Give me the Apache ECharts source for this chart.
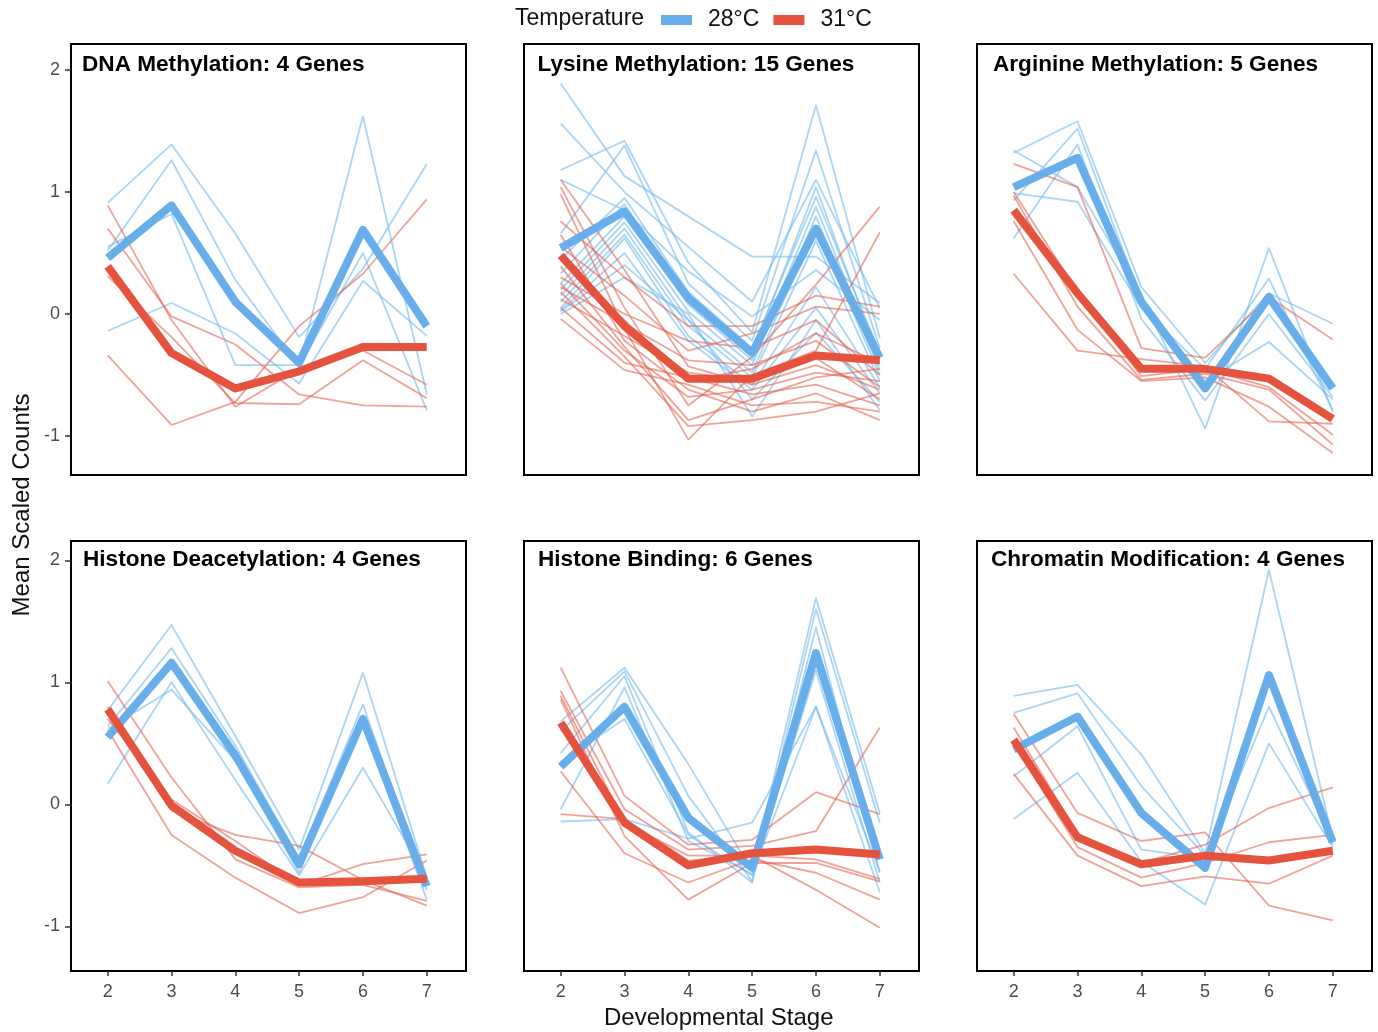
<!DOCTYPE html>
<html><head><meta charset="utf-8">
<script src="https://cdn.jsdelivr.net/npm/echarts@6/dist/echarts.min.js"></script>
<style>html,body{margin:0;padding:0;background:#fff}#c{width:1378px;height:1032px}</style>
</head><body><div id="c"></div><script>
// ---------- DATA ----------
const stages = [2, 3, 4, 5, 6, 7];
const yTicks = [-1, 0, 1, 2];
const temps = ['28°C', '31°C'];
const panelTitles = [
  'DNA Methylation: 4 Genes', 'Lysine Methylation: 15 Genes', 'Arginine Methylation: 5 Genes',
  'Histone Deacetylation: 4 Genes', 'Histone Binding: 6 Genes', 'Chromatin Modification: 4 Genes'
];

// DNA Methylation
const dna28 = [
  [0.91, 1.39, 0.66, -0.19, 0.37, 1.23],
  [0.52, 1.26, 0.28, -0.43, 0.50, -0.79],
  [-0.14, 0.09, -0.16, -0.57, 0.27, -0.18],
  [0.55, 0.82, -0.42, -0.42, 1.62, -0.66]
];
const dna31 = [
  [0.89, -0.05, -0.76, -0.45, -0.30, -0.58],
  [0.70, -0.02, -0.25, -0.66, -0.75, -0.76],
  [-0.34, -0.91, -0.72, -0.10, 0.33, 0.94],
  [0.31, -0.19, -0.73, -0.74, -0.38, -0.69]
];
const dna28Mean = [0.46, 0.89, 0.10, -0.40, 0.69, -0.10];
const dna31Mean = [0.39, -0.32, -0.61, -0.47, -0.27, -0.27];

// Lysine Methylation
const lys28 = [
  [1.89, 1.13, 0.80, 0.47, 0.47, 0.09],
  [1.56, 1.00, 0.55, 0.10, 1.10, 0.05],
  [1.18, 1.42, 0.42, -0.15, 1.71, -0.20],
  [1.10, 0.85, 0.35, -0.02, 0.36, -0.05],
  [0.66, 1.38, 0.25, -0.22, 1.34, -0.28],
  [0.45, 0.95, 0.18, -0.28, 0.96, -0.32],
  [0.33, 0.90, 0.12, -0.32, 1.04, -0.38],
  [0.25, 0.80, 0.08, -0.38, 0.88, -0.42],
  [0.20, 0.75, 0.02, -0.42, 0.80, -0.46],
  [0.15, 0.70, -0.05, -0.48, 0.72, -0.50],
  [0.10, 0.65, -0.10, -0.52, 0.60, -0.55],
  [0.05, 0.62, -0.18, -0.58, 0.22, -0.60],
  [0.03, 0.50, -0.22, -0.62, 0.05, -0.65],
  [0.02, 0.40, -0.05, -0.70, -0.15, -0.72],
  [0.00, 0.30, 0.00, -0.84, -0.05, -0.79]
];
const lys31 = [
  [1.10, 0.36, -0.43, -0.58, -0.42, -0.62],
  [1.04, 0.05, -0.75, -0.35, 0.24, 0.88],
  [0.98, -0.12, -1.03, -0.50, -0.30, 0.67],
  [0.76, 0.30, -0.10, -0.10, 0.15, 0.06],
  [0.65, -0.22, -0.62, -0.80, -0.65, -0.87],
  [0.55, 0.15, -0.30, -0.16, 0.06, 0.00],
  [0.45, -0.05, -0.55, -0.45, -0.16, -0.40],
  [0.39, -0.27, -0.87, -0.70, -0.52, -0.45],
  [0.30, 0.00, -0.22, -0.28, -0.05, -0.50],
  [0.25, -0.30, -0.68, -0.62, -0.48, -0.55],
  [0.22, -0.08, -0.38, -0.42, -0.22, -0.60],
  [0.18, -0.35, -0.92, -0.87, -0.80, -0.65],
  [0.12, -0.18, -0.48, -0.55, -0.36, -0.70],
  [0.05, -0.40, -0.52, -0.66, -0.58, -0.75],
  [-0.04, -0.46, -0.58, -0.75, -0.72, -0.80]
];
const lys28Mean = [0.54, 0.84, 0.13, -0.32, 0.70, -0.36];
const lys31Mean = [0.48, -0.10, -0.53, -0.53, -0.34, -0.38];

// Arginine Methylation
const arg28 = [
  [1.32, 1.58, 0.22, -0.40, 0.17, -0.08],
  [1.34, 1.04, 0.15, -0.94, 0.54, -0.80],
  [0.99, 0.92, 0.05, -0.45, 0.29, -0.79],
  [0.93, 1.52, 0.12, -0.55, -0.23, -0.70],
  [0.62, 1.39, -0.04, -0.71, 0.00, -0.68]
];
const arg31 = [
  [1.23, 1.04, -0.28, -0.36, 0.14, -0.21],
  [1.00, 0.18, -0.51, -0.45, -0.60, -0.99],
  [0.97, 0.06, -0.54, -0.49, -0.62, -1.07],
  [0.76, -0.13, -0.55, -0.52, -0.76, -1.14],
  [0.33, -0.30, -0.37, -0.43, -0.88, -0.90]
];
const arg28Mean = [1.04, 1.28, 0.10, -0.61, 0.14, -0.61];
const arg31Mean = [0.85, 0.17, -0.45, -0.45, -0.53, -0.86];

// Histone Deacetylation
const hdac28 = [
  [0.77, 1.47, 0.56, -0.37, 1.08, -0.60],
  [0.64, 1.28, 0.48, -0.45, 0.82, -0.70],
  [0.62, 0.94, 0.36, -0.56, 0.67, -0.78],
  [0.17, 1.00, 0.20, -0.58, 0.30, -0.60]
];
const hdac31 = [
  [1.01, 0.22, -0.45, -0.68, -0.66, -0.79],
  [0.80, -0.05, -0.25, -0.34, -0.62, -0.83],
  [0.70, 0.04, -0.30, -0.66, -0.49, -0.41],
  [0.61, -0.25, -0.60, -0.89, -0.76, -0.46]
];
const hdac28Mean = [0.55, 1.16, 0.40, -0.49, 0.70, -0.67];
const hdac31Mean = [0.78, -0.01, -0.38, -0.64, -0.63, -0.61];

// Histone Binding
const hb28 = [
  [0.68, 1.12, 0.33, -0.55, 1.69, -0.07],
  [0.60, 1.09, 0.07, -0.63, 1.60, -0.15],
  [0.42, 1.05, -0.23, -0.64, 1.45, -0.56],
  [0.35, 0.70, -0.25, -0.58, 1.10, -0.64],
  [-0.04, 0.96, -0.30, -0.57, 0.80, -0.72],
  [-0.14, -0.12, -0.28, -0.15, 0.80, -0.55]
];
const hb31 = [
  [1.12, 0.07, -0.33, -0.29, 0.10, -0.08],
  [0.93, -0.04, -0.37, -0.34, -0.22, 0.63],
  [0.89, -0.15, -0.42, -0.42, -0.45, -0.61],
  [0.86, -0.26, -0.78, -0.48, -0.48, -0.63],
  [0.27, -0.40, -0.64, -0.45, -0.56, -0.78],
  [-0.08, -0.12, -0.46, -0.42, -0.70, -1.01]
];
const hb28Mean = [0.31, 0.80, -0.11, -0.52, 1.24, -0.45];
const hb31Mean = [0.67, -0.15, -0.50, -0.40, -0.37, -0.41];

// Chromatin Modification
const chr28 = [
  [0.89, 0.98, 0.41, -0.40, 1.92, -0.28],
  [0.75, 0.91, 0.15, -0.42, 1.02, -0.33],
  [0.23, 0.64, -0.37, -0.44, 0.80, -0.31],
  [-0.12, 0.26, -0.47, -0.82, 0.50, -0.35]
];
const chr31 = [
  [0.74, -0.07, -0.30, -0.23, -0.83, -0.95],
  [0.63, -0.24, -0.48, -0.33, -0.03, 0.14],
  [0.50, -0.35, -0.60, -0.48, -0.31, -0.25],
  [0.25, -0.42, -0.67, -0.59, -0.65, -0.42]
];
const chr28Mean = [0.45, 0.72, -0.07, -0.52, 1.06, -0.31];
const chr31Mean = [0.53, -0.27, -0.49, -0.42, -0.46, -0.38];

// ---------- BUILD ----------
const genes28 = [dna28, lys28, arg28, hdac28, hb28, chr28];
const genes31 = [dna31, lys31, arg31, hdac31, hb31, chr31];
const means28 = [dna28Mean, lys28Mean, arg28Mean, hdac28Mean, hb28Mean, chr28Mean];
const means31 = [dna31Mean, lys31Mean, arg31Mean, hdac31Mean, hb31Mean, chr31Mean];

const FONT = '"Liberation Sans", Arial, Helvetica, sans-serif';
const BLUE = '#67AEEA';
const RED = '#E5533F';
const BLUE_THIN = 'rgba(118,188,238,0.62)';
const RED_THIN = 'rgba(228,96,80,0.58)';

const colLeft = [71, 524, 977];
const rowTop = [44, 541];
const rowH = [431, 430];
const W = 395;
const rowMin = [-1.32, -1.365];
const rowMax = [2.213, 2.158];
const titleDx = [11, 13.5, 16, 12, 14, 14];
const titleY = [63, 558];

const grids = [], xAxes = [], yAxes = [], series = [], graphics = [];
for (let i = 0; i < 6; i++) {
  const r = Math.floor(i / 3), c = i % 3;
  grids.push({left: colLeft[c], top: rowTop[r], width: W, height: rowH[r],
    show: true, borderColor: '#000', borderWidth: 2, backgroundColor: 'transparent', containLabel: false});
  const bottom = r === 1, left = c === 0;
  xAxes.push({type: 'value', gridIndex: i, min: 1.425, max: 7.615, position: 'bottom',
    axisLine: {show: false, onZero: false}, splitLine: {show: false},
    axisTick: {show: bottom, customValues: stages, length: 5, lineStyle: {color: '#333', width: 1.5}},
    axisLabel: {show: bottom, customValues: stages, color: '#4D4D4D', fontSize: 18, fontFamily: FONT, margin: 12}});
  yAxes.push({type: 'value', gridIndex: i, min: rowMin[r], max: rowMax[r], position: 'left',
    axisLine: {show: false, onZero: false}, splitLine: {show: false},
    axisTick: {show: left, customValues: yTicks, length: 6, lineStyle: {color: '#333', width: 1.5}},
    axisLabel: {show: left, customValues: yTicks, color: '#4D4D4D', fontSize: 18, fontFamily: FONT, margin: 11}});
  const toPts = v => stages.map((s, k) => [s, v[k]]);
  genes28[i].forEach(v => series.push({type: 'line', name: 'g28', xAxisIndex: i, yAxisIndex: i, data: toPts(v),
    symbol: 'none', silent: true, z: 2, lineStyle: {color: BLUE_THIN, width: 1.8, join: 'round'}}));
  genes31[i].forEach(v => series.push({type: 'line', name: 'g31', xAxisIndex: i, yAxisIndex: i, data: toPts(v),
    symbol: 'none', silent: true, z: 2, lineStyle: {color: RED_THIN, width: 1.8, join: 'round'}}));
  series.push({type: 'line', name: temps[0], xAxisIndex: i, yAxisIndex: i, data: toPts(means28[i]),
    symbol: 'none', silent: true, z: 3, itemStyle: {color: BLUE}, lineStyle: {color: BLUE, width: 8, join: 'round', cap: 'butt'}});
  series.push({type: 'line', name: temps[1], xAxisIndex: i, yAxisIndex: i, data: toPts(means31[i]),
    symbol: 'none', silent: true, z: 4, itemStyle: {color: RED}, lineStyle: {color: RED, width: 8, join: 'round', cap: 'butt'}});
  graphics.push({type: 'text', left: colLeft[c] + titleDx[i], top: titleY[r] - 10,
    style: {text: panelTitles[i], font: 'bold 22.6px ' + FONT, fill: '#000'}});
}

graphics.push({type: 'text', left: 515, top: 7, style: {text: 'Temperature', font: '23px ' + FONT, fill: '#111'}});
graphics.push({type: 'text', left: 604, top: 1006, style: {text: 'Developmental Stage', font: '24px ' + FONT, fill: '#111'}});
graphics.push({type: 'text', x: 22, y: 505, rotation: Math.PI / 2,
  style: {text: 'Mean Scaled Counts', font: '24px ' + FONT, fill: '#111', align: 'center', verticalAlign: 'middle'}});

const chart = echarts.init(document.getElementById('c'), null, {renderer: 'canvas'});
chart.setOption({
  animation: false,
  backgroundColor: '#fff',
  legend: {data: temps, left: 661, top: 8, padding: 0, icon: 'rect', itemWidth: 31, itemHeight: 10, itemGap: 14,
    selectedMode: false,
    textStyle: {fontSize: 23, fontFamily: FONT, color: '#111', lineHeight: 24, padding: [0, 0, 0, 11]}},
  grid: grids, xAxis: xAxes, yAxis: yAxes, series: series, graphic: graphics
});
</script></body></html>
